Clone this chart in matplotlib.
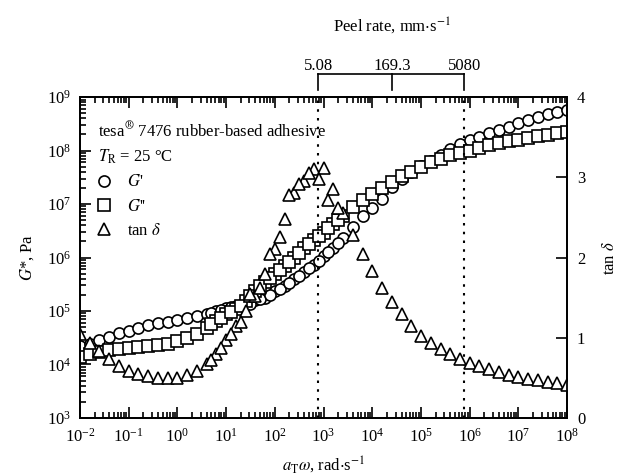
import numpy as np
import matplotlib
matplotlib.use("Agg")
import matplotlib.pyplot as plt
import matplotlib.transforms as mtransforms
from matplotlib.ticker import LogLocator, NullFormatter, FixedLocator

plt.rcParams["font.family"] = ["Liberation Serif", "DejaVu Serif"]
plt.rcParams["mathtext.fontset"] = "stix"

# ------------------------------------------------------------
# data (log10 of reduced frequency a_T*omega, rad/s)
# ------------------------------------------------------------
log_w = [-2.0, -1.8, -1.6, -1.4, -1.2, -1.0, -0.8, -0.6, -0.4, -0.2,
         0.0, 0.2, 0.4, 0.6, 0.8, 1.0, 1.2, 1.4, 1.6, 1.8,
         2.0, 2.2, 2.4, 2.6, 2.8, 3.0, 3.2, 3.4, 3.6, 3.8,
         4.0, 4.2, 4.4, 4.6, 4.8, 5.0, 5.2, 5.4, 5.6, 5.8,
         6.0, 6.2, 6.4, 6.6, 6.8, 7.0, 7.2, 7.4, 7.6, 7.8, 8.0]

# log10 G', Pa
log_g1 = [4.34, 4.39, 4.46, 4.52, 4.58, 4.63, 4.69, 4.73, 4.77, 4.80,
          4.83, 4.86, 4.90, 4.95, 5.00, 5.05, 5.10, 5.16, 5.20, 5.25,
          5.37, 5.46, 5.60, 5.73, 5.86, 6.02, 6.18, 6.36, 6.57, 6.77,
          6.93, 7.10, 7.31, 7.47, 7.59, 7.71, 7.81, 7.92, 8.03, 8.13,
          8.19, 8.25, 8.33, 8.39, 8.45, 8.52, 8.58, 8.63, 8.68, 8.72, 8.75]

# log10 G'', Pa
log_g2 = [4.14, 4.20, 4.24, 4.27, 4.29, 4.31, 4.33, 4.34, 4.36, 4.39,
          4.44, 4.49, 4.57, 4.69, 4.82, 4.94, 5.04, 5.19, 5.38, 5.55,
          5.69, 5.84, 6.00, 6.17, 6.33, 6.46, 6.62, 6.78, 6.95, 7.08,
          7.19, 7.30, 7.41, 7.52, 7.60, 7.69, 7.78, 7.85, 7.91, 7.95,
          8.00, 8.05, 8.11, 8.14, 8.17, 8.20, 8.23, 8.27, 8.30, 8.32, 8.34]

# tan delta
tan_d = [1.05, 0.93, 0.83, 0.73, 0.65, 0.59, 0.55, 0.52, 0.50, 0.50,
         0.50, 0.53, 0.58, 0.67, 0.80, 0.97, 1.15, 1.33, 1.52, 1.80,
         2.10, 2.48, 2.80, 2.95, 3.10, 3.12, 2.85, 2.55, 2.28, 2.05,
         1.83, 1.62, 1.45, 1.30, 1.15, 1.02, 0.93, 0.86, 0.80, 0.74,
         0.69, 0.65, 0.61, 0.57, 0.54, 0.51, 0.49, 0.47, 0.45, 0.43, 0.41]

# overlapping segment in the transition zone
log_w_b = [0.7, 0.9, 1.1, 1.3, 1.5, 1.7, 1.9, 2.1, 2.3, 2.5, 2.7, 2.9, 3.1, 3.3]
log_g1_b = [4.97, 5.02, 5.07, 5.12, 5.13, 5.22, 5.30, 5.42, 5.52, 5.66, 5.80, 5.93, 6.10, 6.28]
log_g2_b = [4.75, 4.87, 4.99, 5.10, 5.28, 5.46, 5.62, 5.77, 5.92, 6.08, 6.25, 6.40, 6.55, 6.70]
tan_d_b = [0.72, 0.87, 1.05, 1.20, 1.55, 1.62, 2.05, 2.25, 2.78, 2.92, 3.05, 2.98, 2.72, 2.62]

# peel rate, mm/s, and its frequency equivalent
peel_rates = [5.08, 169.3, 5080]
rate_to_omega = 152.0
peel_labels = ["5.08", "169.3", "5080"]

w = 10 ** np.array(log_w + log_w_b)
g1 = 10 ** np.array(log_g1 + log_g1_b)
g2 = 10 ** np.array(log_g2 + log_g2_b)
td = np.array(tan_d + tan_d_b)

fig = plt.figure(figsize=(6.24, 4.76), dpi=100)
ax = fig.add_axes([0.128, 0.122, 0.781, 0.674])
ax2 = ax.twinx()

mk = dict(linestyle="none", markerfacecolor="white", markeredgecolor="black",
          markeredgewidth=1.2, markersize=8)
h1, = ax.plot(w, g1, marker="o", **mk)
h2, = ax.plot(w, g2, marker="s", **mk)
h3, = ax2.plot(w, td, marker="^", **mk)

ax.set_xscale("log")
ax.set_yscale("log")
ax.set_xlim(1e-2, 1e8)
ax.set_ylim(1e3, 1e9)
ax2.set_ylim(0, 4)

ax.xaxis.set_major_locator(LogLocator(base=10, numticks=20))
ax.xaxis.set_minor_locator(LogLocator(base=10, subs=np.arange(2, 10), numticks=200))
ax.xaxis.set_minor_formatter(NullFormatter())
ax.yaxis.set_major_locator(LogLocator(base=10, numticks=20))
ax.yaxis.set_minor_locator(LogLocator(base=10, subs=np.arange(2, 10), numticks=200))
ax.yaxis.set_minor_formatter(NullFormatter())
ax2.yaxis.set_major_locator(FixedLocator([0, 1, 2, 3, 4]))

ax.tick_params(which="both", direction="in", top=True, labelsize=12, width=1.2)
ax.tick_params(which="major", length=8)
ax.tick_params(which="minor", length=4)
ax.tick_params(axis="x", pad=7)
ax.tick_params(axis="y", pad=6)
ax2.tick_params(direction="in", length=8, width=1.2, labelsize=12, pad=7)
for a in (ax, ax2):
    for s in a.spines.values():
        s.set_linewidth(1.3)

ax.set_xlabel(r"$a_\mathrm{T}\omega$, rad$\cdot$s$^{-1}$", fontsize=12, labelpad=6)
ax.set_ylabel(r"$G$*, Pa", fontsize=12, labelpad=8)
ax2.set_ylabel(r"tan $\delta$", fontsize=12, labelpad=12)

# dotted peel-rate limits
for r in (peel_rates[0], peel_rates[-1]):
    ax.axvline(r * rate_to_omega, color="black", linestyle=(0, (1.2, 3)), linewidth=1.5)

# peel-rate bracket above the plot
trans = mtransforms.blended_transform_factory(ax.transData, ax.transAxes)
bx = [r * rate_to_omega for r in peel_rates]
ax.plot([bx[0], bx[-1]], [1.072, 1.072], color="black", lw=1.2,
        transform=trans, clip_on=False)
for xv, lab in zip(bx, peel_labels):
    ax.plot([xv, xv], [1.072, 1.022], color="black", lw=1.2,
            transform=trans, clip_on=False)
    ax.text(xv, 1.097, lab, transform=trans, ha="center", va="center", fontsize=12)
ax.text(bx[1], 1.224, r"Peel rate, mm$\cdot$s$^{-1}$", transform=trans,
        ha="center", va="center", fontsize=12)

# annotation and legend
ax.text(0.037, 0.894, r"tesa$^{\circledR}$ 7476 rubber-based adhesive",
        transform=ax.transAxes, fontsize=12, va="center")
ax.text(0.037, 0.813, r"$T_\mathrm{R}$ = 25 °C",
        transform=ax.transAxes, fontsize=12, va="center")
ax.legend([h1, h2, h3], [r"$G$'", r"$G$''", r"tan $\delta$"],
          loc="upper left", bbox_to_anchor=(0.015, 0.78), frameon=False,
          fontsize=12, handlelength=1.2, handletextpad=0.8, labelspacing=0.5,
          borderaxespad=0)

fig.savefig("out.png", dpi=100)
